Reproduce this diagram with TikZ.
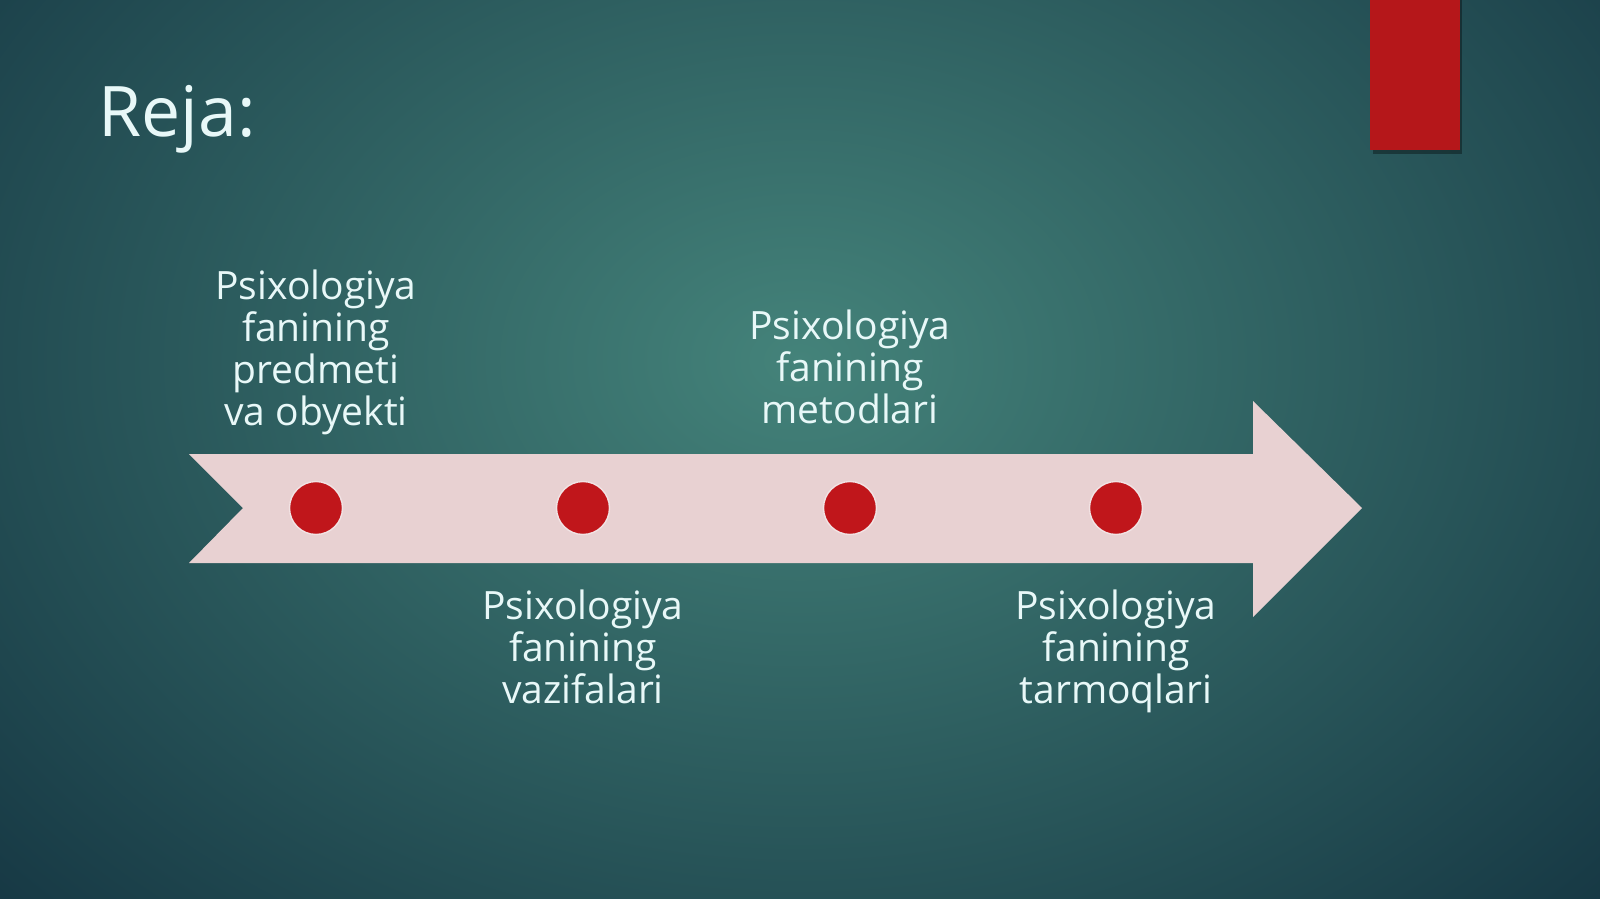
\documentclass[tikz,border=0pt]{standalone}
\usepackage{fontspec}
\setmainfont{Open Sans}
\definecolor{bgout}{HTML}{12313F}
\definecolor{bgin}{HTML}{44837A}
\definecolor{ribbon}{HTML}{E8D1D2}
\definecolor{dotred}{HTML}{C0161B}
\definecolor{rectred}{HTML}{B5171A}
\definecolor{txt}{HTML}{E8F8F8}
\begin{document}
\begin{tikzpicture}[x=0.02cm,y=-0.02cm,
  label/.style={text=txt,align=center,font=\fontsize{22.2}{23.8}\selectfont,inner sep=0pt,anchor=south},
  labelb/.style={text=txt,align=center,font=\fontsize{22.2}{23.8}\selectfont,inner sep=0pt,anchor=north},
  dot/.style={circle,fill=dotred,draw=ribbon!60!white,line width=0.8pt,minimum size=1.06cm,inner sep=0pt}]
\useasboundingbox (0,0) rectangle (1600,899);
\fill[bgout] (0,0) rectangle (1600,899);
\begin{scope}
\clip (0,0) rectangle (1600,899);
\shade[inner color=bgin,outer color=bgout] (800,360) ellipse (1200 and 880);
\end{scope}
% red tab
\fill[black,opacity=0.35] (1373,0) rectangle (1462,154);
\fill[rectred] (1370,0) rectangle (1460,150);
% title
\node[anchor=base west,text=txt,font=\fontsize{39.7}{46}\selectfont,inner sep=0pt] (title) at (98,136) {Reja:};
% ribbon arrow
\fill[ribbon] (189,454) -- (1253,454) -- (1253,401) -- (1362,508) -- (1253,617) -- (1253,563) -- (189,563) -- (243,508) -- cycle;
% dots
\node[dot] (d1) at (316,508) {};
\node[dot] (d2) at (583,508) {};
\node[dot] (d3) at (850,508) {};
\node[dot] (d4) at (1116,508) {};
% labels
\node[label] (t1) at (316,435) {Psixologiya\\fanining\\predmeti\\va obyekti};
\node[labelb] (t2) at (583,590) {Psixologiya\\fanining\\vazifalari};
\node[label] (t3) at (850,424) {Psixologiya\\fanining\\metodlari};
\node[labelb] (t4) at (1116,590) {Psixologiya\\fanining\\tarmoqlari};
\end{tikzpicture}
\end{document}
